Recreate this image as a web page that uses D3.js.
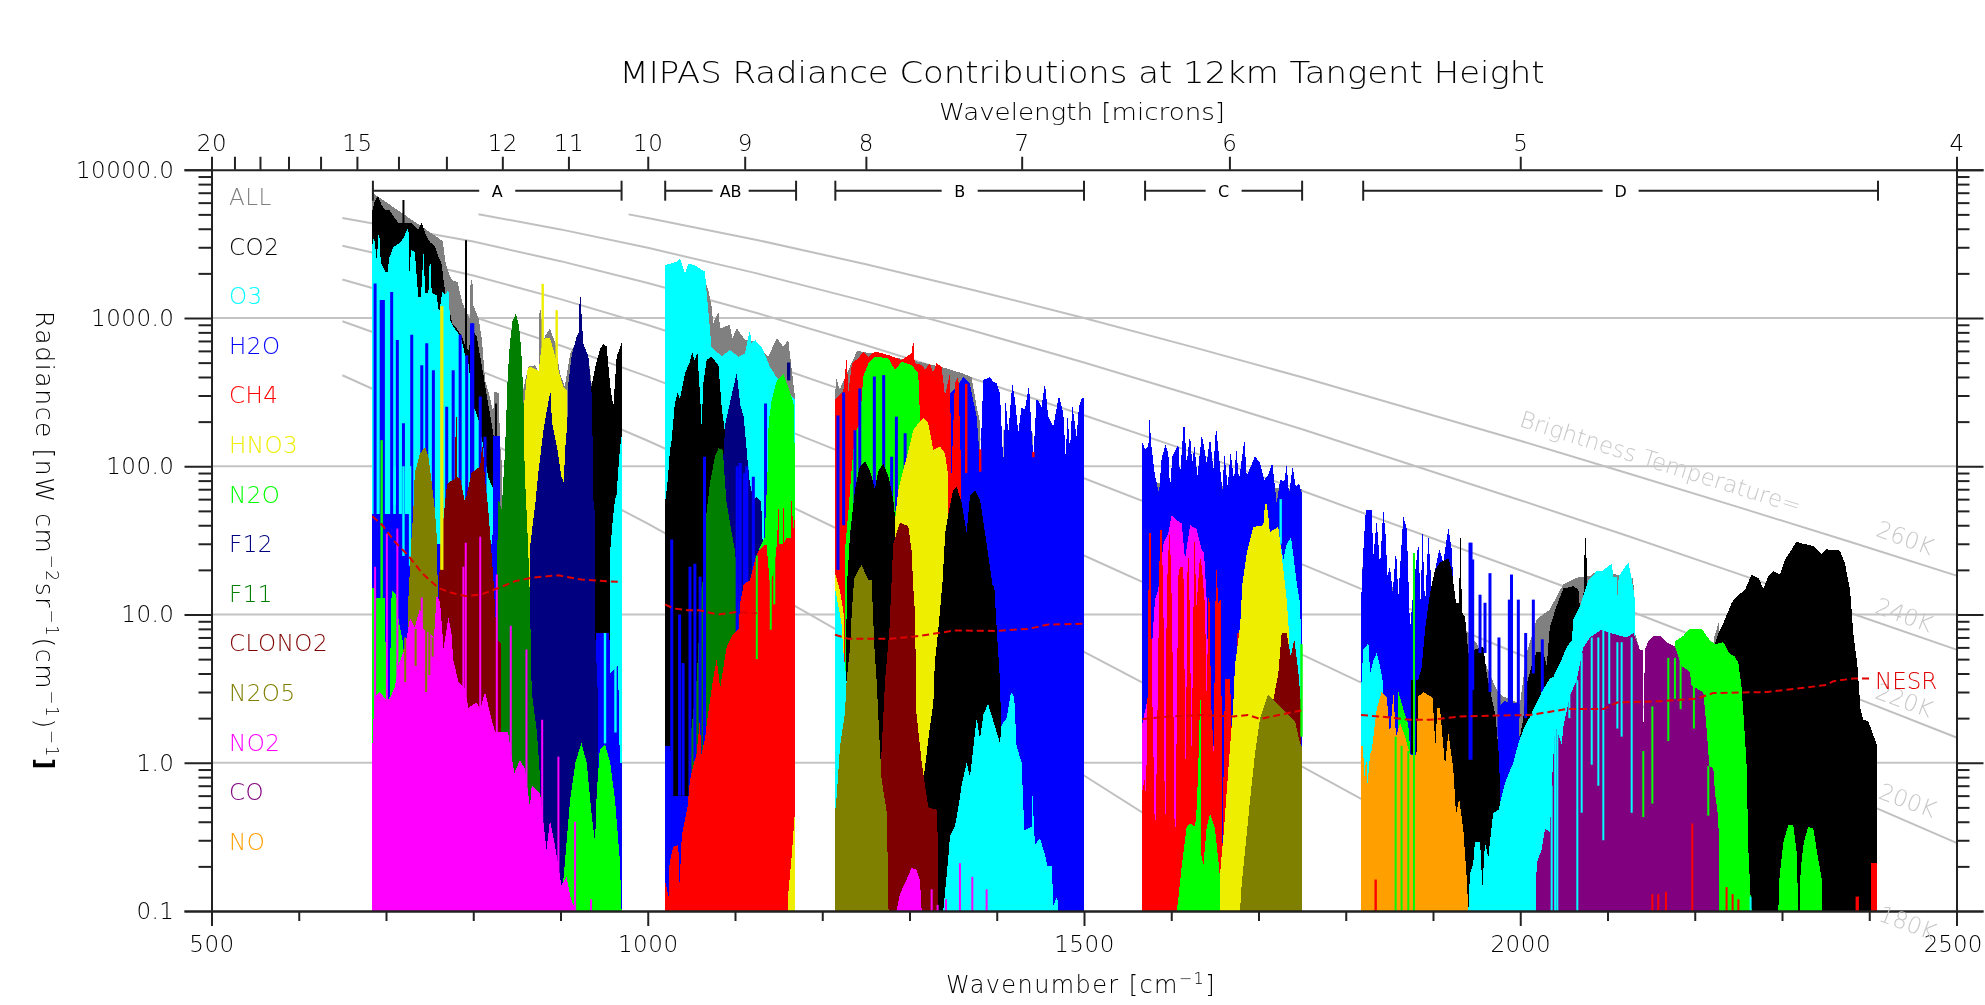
<!DOCTYPE html>
<html>
<head>
<meta charset="utf-8">
<title>MIPAS Radiance Contributions</title>
<script src="https://cdn.jsdelivr.net/npm/d3@7"></script>
<style>
  html, body { margin: 0; background: #fff; }
  svg { display: block; filter: blur(0.55px); }
  text { font-family: "DejaVu Sans", sans-serif; font-weight: 200; fill: #000; }
  .tick line, .domain { stroke: #222; stroke-width: 2; }
</style>
</head>
<body>
<script>
// -- gases, legend order --
var gases = ["ALL","CO2","O3","H2O","CH4","HNO3","N2O","F12","F11","CLONO2","N2O5","NO2","CO","NO"];
var gasColors = ["#808080","#000000","#00ffff","#0000ff","#ff0000","#eeee00","#00ff00","#000080","#007f00","#7f0000","#7f7f00","#ff00ff","#800080","#ff9f00"];

// -- axis values --
var wnMajor = [500,1000,1500,2000,2500];
var wnMinor = [600,700,800,900,1100,1200,1300,1400,1600,1700,1800,1900,2100,2200,2300,2400];
var radMajor = [0.1,1,10,100,1000,10000];
var radMinor = [0.2,0.3,0.4,0.5,0.6,0.7,0.8,0.9,2,3,4,5,6,7,8,9,20,30,40,50,60,70,80,90,200,300,400,500,600,700,800,900,2000,3000,4000,5000,6000,7000,8000,9000];
var microns = [20,19,18,17,16,15,14,13,12,11,10,9,8,7,6,5,4];
var micronLabels = [20,15,12,11,10,9,8,7,6,5,4];

// -- spectral bands --
var bandNames = ["A","AB","B","C","D"];
var bandStart = [685,1020,1215,1570,1820];
var bandEnd = [970,1170,1500,1750,2410];

// -- brightness temperature curves, wavenumber,radiance --
var bt260 = [978,5000,1000,4726,1125,3363,1250,2305,1375,1535,1500,999,1625,636,1750,398,2000,148.6,2125,89,2250,53,2375,31.3,2500,18.3];
var bt240 = [806,5010,900,3960,1000,2976,1125,2000,1250,1294,1375,815,1500,501,1625,300,1750,177.5,2000,59,2125,33.6,2250,18.8,2375,10.4,2500,5.8];
var bt220 = [650,4725,800,3278,900,2418,1000,1723,1125,1081,1250,655,1375,386,1500,221,1625,124,1750,68.3,2000,19.9,2125,10.6,2250,5.5,2375,2.88,2500,1.48];
var bt200 = [650,3075,800,1935,900,1340,1000,896,1125,519,1250,289,1375,157,1500,83,1625,43,1750,21.8,2000,5.35,2125,2.62,2250,1.27,2375,0.6,2500,0.288];
var bt180 = [650,1820,800,1020,900,653,1000,402,1125,211,1250,107,1375,52.5,1500,25,1625,11.6,1750,5.36,2000,1.08,2125,0.48,2250,0.21,2370,0.094];
var bt160 = [650,950,800,460,900,265,1000,148.5,1125,69,1250,30.6,1375,13.3,1500,5.6,1625,2.3,1750,0.94,1900,0.31,2050,0.1];
var bt140 = [650,411,800,164,900,83.5,1000,41,1125,16,1250,6.1,1375,2.26,1500,0.82,1625,0.28,1700,0.15,1770,0.084];

// -- noise level per band --
var nesrA = [684.4,46,695,40.5,710,31,726,24.8,741,19.1,760,15.1,775,14,792.5,13.3,810,13.7,829,15.1,848,16.8,867,17.7,897.5,18.4,924,17.2,966,16.6];
var nesrAB = [1019.8,11.7,1029,11,1045,10.7,1058,10.7,1081,10,1102,10.4,1125,10.2];
var nesrB = [1214.6,7.3,1230,6.85,1275.7,6.85,1306,7.1,1333,7.5,1352,7.8,1398,7.75,1436,8,1459,8.55,1500,8.65];
var nesrC = [1567,1.97,1597,2.05,1635,2.1,1671,2.05,1688,2.1,1702,1.97,1723,2.1,1749,2.25];
var nesrD = [1817.5,2.1,1839,2.05,1874,1.95,1897,1.95,1931,2.05,1973,2.08,2011,2.1,2053,2.3,2095,2.3,2111,2.55,2160,2.6,2202,2.7,2221,2.95,2283,3,2325,3.2,2351,3.35,2359,3.55,2382,3.7,2404,3.7];

// ***** Band A *****
var aAll = [684.4,7000,762,3400,765,3300,768,2400,772,2000,776,1800,782,1750,787,1300,792,1100,796,1000,797,1800,799,1800,800,1220,806,1000,810,715,813.5,380,819,295,823,228,824,320,829,310,831,135,833,100,833.5,0.1,855,0.1,855.5,290,863,470,871,480,875,430,876,1130,878,1130,879,620,882,750,888,850,894,675,899.5,420,905,345,911,570,917,675,924,720,932,548,936,345,940,345,941,0.1];
var aCo2 = [684.5,5350,687.5,6240,691,6600,695,5780,699,5350,704,5350,709,4800,714,4400,730,4360,737,3930,741,4400,745,3700,750,3270,756,3030,760,2600,764,2300,766,1800,768,1470,772,1190,776,920,781,852,787,748,791,640,795,600,798,852,804,748,808,548,812,402,815,310,819,228,823,167,829,90,831,51,832,0.1,933,0.1,934,310,940,470,945,610,949,675,953,640,957,345,960.6,252,964.4,548,970,675];
var aCo2Spikes = [720,6240,0.1,791.7,3350,0.1,826,265,0.1];
var aO3 = [684.4,3150,686.3,3540,689.4,2460,692,4030,694,2390,699,2050,702,2050,703.5,2520,708.5,3030,714,3150,720,3440,724,3930,725.7,4030,726.8,2000,728.7,2880,733,2800,737,1390,740,1390,743,2730,745,1470,748.6,1470,750.5,2730,752.4,1470,758,1430,760.8,1075,764.6,1500,767.7,1430,771.5,1540,773.4,970,777,874,783,788,786.8,710,790.6,563,795,482,798,280,806,205,811.6,135,817,85,823,70,824,48,824.5,0.1,956,0.1,957,27,960,44,962.5,60,964,62,968,130,970.5,167];
var aH2o = [684.4,48,733,48,735,30,822,30,823,160,831,160,832,0.1,941,0.1,941,7.5,956,7.5,957,4,966,4.5,968,1,970.5,1];
var aH2oSpikes = [687.5,1710,0.1,694.5,1320,0.1,697,1320,0.1,706.5,1500,0.1,713,710,0.1,720,195,0.1,729.5,770,0.1,741,480,0.1,746.7,675,0.1,754.3,445,0.1,769.6,252,0.1,777,445,0.1,785,770,0.1,792.5,560,0.1,798,920,0.1,799.5,920,0.1,808,295,0.1,813.5,158,0.1];
var aO3Spikes = [701,100,49,710,100,55,720,100,24.8,727.6,100,21.3,951,7.5,1.35,963,20,1.6];
var aHno3 = [858,0.1,858.5,270,862,440,864,470,869,460,875,440,878,620,882,730,888,730,892,610,897.6,447,903,345,908,320,908.5,0.1];
var aHno3Spikes = [879.6,1700,400,895.6,1130,300];
var aF12 = [864.5,0.1,864.5,27,871,55,874.6,90,880,167,884,232,888,310,889,310,890,200,896,135,901,85,904,77,905,122,908,204,908.5,340,913,570,918.6,748,921,800,922,1390,923,1390,926,675,932,548,936,295,938,51,939.6,51,940,7,943,2.7,943.5,0.1];
var aF11 = [827,0.1,827,21,829,60,832.6,51,836.4,127,839.5,402,842,675,845,950,849,1075,852.5,875,855,610,857.5,295,859,90,861,51,863,27.5,865,12.6,867,3,873,1.6,877,0.73,878,0.1];
var aN2oLeft = [684.4,15,687,15,688,13,699,13,700,2.7,704,2.7,706.5,14.5,712,13.5,713,4,714,9.5,719,6.7,719.5,0.1];
var aN2oSpikes = [695,150,3];
var aN5 = [720,5.8,725.7,7.5,725.7,13,727.6,21,729.5,35,731.4,51,733,90,739,122,745,135,748.6,116,752,81,756,51,758,35,759,19,759.3,15.5,760,0.1];
var aClono2 = [760,10,762,27,766,45,768,60,770,76,775,80,779,82,780,215,781,215,782,83,785,83,790,59,792,62,798,90,808,100,810,135,811,135,813.5,81,817,53,823,17.7,827,6.8,832,6.4,832.5,0.1];
var aHno3Line = [763.5,1200,20,764.5,1200,20];
var aN2oRight = [903,0.1,903,0.154,911,0.56,917,1,924,1.36,930,1,936,0.43,939.6,0.29,941.5,0.62,945,1.22,951,1.33,957,1,962.5,0.56,968,0.22,970,0.1];
var aNo2 = [684.4,1.3,686.7,2.75,693,3,699,2.7,704,2.7,710,3.2,714,4.5,720,5.6,724,7.1,727.6,9.5,733,8.2,739,11,743,8,750,7.5,755,7,758,13.5,762,12,766,5.9,771.5,9.5,775,7.5,777,5,783,3.5,790,3.2,794.4,2.35,804,2.55,808,2.3,813.5,3,819,2.2,825,1.6,840,1.6,847,0.85,853.6,1.05,859.4,0.9,865,0.5,867,0.7,876.6,0.62,882,0.33,884,0.26,888,0.41,894,0.27,901,0.15,907,0.17,912,0.12,918,0.1];
var aNo2Spikes = [687.5,21,0.1,701,35,0.1,713,38,0.1,741,13,0.1,788.7,21,0.1,791.4,30.5,0.1,808,33.5,0.1,827,18.6,0.1,843,8.4,0.1,861,5.8,0.1,879,1.95,0.1,897.6,1.1,0.1,916.7,0.4,0.1,935,0.12,0.1];
var aN5Notches = [722,7,3.5,734,8,4.5,746,8,3,749.7,8,3.9,753.5,7,5.2];

// ***** Band AB *****
var bAll = [1065,0.1,1065,1800,1069.4,1550,1073,1220,1075,920,1081,1100,1083,850,1094,900,1097,730,1102,850,1111.4,715,1123,693,1138,548,1148,730,1155.4,640,1161,715,1165,447,1168.7,295];
var bO3 = [1019.8,2270,1033,2400,1037,2520,1042.7,1990,1046.5,2320,1054,2270,1065.6,2050,1067.5,1470,1070.6,945,1073,640,1084.7,550,1094,608,1104,548,1111.4,575,1117,830,1119,675,1123,710,1130.5,640,1140,470,1146,412,1168.7,280];
var bCo2 = [1019.8,56,1023,81,1025.5,129,1027.4,150,1031,265,1034,312,1037,285,1042.7,424,1048.4,508,1051,593,1053.4,520,1057,578,1060,295,1061.8,185,1063.7,363,1067.5,520,1073,548,1081,482,1084.7,252,1089,159,1090,0.1];
var bF12 = [1086,0.1,1086,100,1089,195,1094,265,1102,425,1106,260,1110,216,1115,100,1117,77,1121,59,1125,62,1130,58,1132,27,1132.5,0.1];
var bF11 = [1048.4,1.2,1050,1.68,1056,3.6,1058,6.1,1062,17,1064,16,1065.6,39.5,1071.3,77,1077,116,1081,132,1086,129,1090,59,1096.2,35.5,1100,27,1103,16,1104,12,1106,7.9,1106.5,0.1];
var bH2o = [1019.8,1.3,1026,1.3,1027,0.6,1048,0.6,1048.5,0.1];
var bH2oSpikes = [1027.5,32,0.6,1036.5,10,0.6,1040.5,4.7,0.6,1048.4,21,0.6,1054,22,1,1060,18,1,1065,116,1,1102.5,100,1,1106,105,1,1111,90,1,1113.5,100,1,1121,85,1,1135,265,1,1150,110,1,1165,120,1];
var bN2o = [1128,0.1,1128,28,1134,33,1138,115,1138.5,195,1142,280,1148,380,1155.4,420,1161,340,1167,270,1168.7,110];
var bF12Top = [1161,500,380,1162,500,380];
var bCh4 = [1019.8,0.16,1024,0.125,1025,0.21,1029,0.27,1035,0.28,1036.5,0.15,1039,0.32,1045.5,0.5,1048.4,0.76,1052,0.95,1056,1.15,1060,2.05,1061,1.1,1065.6,1.45,1069,2.1,1075,3.7,1079,5,1083,3.2,1090.5,6.1,1098,7.4,1104,7.9,1106,12,1110,16,1117,17,1123,23.5,1127,27,1136,30,1140,16,1145,20,1148,30,1150,53,1151,30,1155,30,1155.4,69,1156,30,1159,33,1164,33,1165,69,1166.5,36,1168.7,46];
var bN2oSpikes = [1125,25,5,1141,25,7.9,1145,30,11.7];
var bHno3 = [1161,0.1,1161,0.13,1164.6,0.22,1168.7,0.47];

// ***** Band B *****
var cAll = [1214.6,290,1216,392,1220,330,1240,600,1310,507,1340,462,1360,424,1371,400,1377,252,1381,195,1383,0.1];
var cAllSpikes = [1409,176,0.1,1440,167,0.1];
var cH2o = [1214.6,205,1224,318,1237.5,175,1243,335,1257,402,1270.4,412,1285,216,1314,402,1320,412,1325,300,1335,300,1344,300,1354,340,1361.7,402,1369,363,1377,216,1381,105,1384.6,382,1390,393,1392.2,402,1396,372,1400,363,1403.7,310,1407.5,105,1410.2,280,1413.2,167,1417.8,363,1420.9,280,1424.7,167,1428.5,252,1432.3,240,1437,353,1440,167,1442,116,1445.7,288,1451.4,252,1455.2,363,1459,216,1464.8,185,1471.3,300,1476.3,227,1479,116,1481.2,216,1484,129,1486.6,259,1491.5,158,1494.2,252,1497.3,288,1500,288];
var cCh4 = [1214.6,280,1224,318,1228,535,1230,318,1234,495,1241.3,535,1247,594,1253,548,1260.4,594,1275.7,563,1291,521,1296.7,548,1302.4,578,1304.4,710,1306,495,1314,482,1318,450,1323.4,495,1327,430,1331,495,1336.8,470,1340.6,300,1346.4,424,1348,85,1352,363,1356,402,1359,100,1361,0.1];
var cCh4Spikes = [1365,360,90,1381,130,92,1442,125,115];
var cN2o = [1226,27,1230,50,1234,100,1237.5,167,1243.2,195,1247,402,1253,495,1260.4,548,1275.7,535,1283.3,446,1291,507,1302.4,482,1310,424,1312,216,1312.5,0.1];
var cH2oSpikes = [1218,220,20,1224.5,315,40,1237.5,175,35,1243,335,50,1259.7,403,50,1270.4,412,50,1285,216,50,1279.5,116,50,1295,167,50];
var cCo2 = [1226,0.1,1228,14.7,1232,35.5,1237.5,69,1243,100,1249,108,1255,92,1260.4,70,1264,92,1270,104,1276,85,1281.5,59,1285,36,1290,36,1290.5,0.1];
var cHno3Left = [1214.6,19,1217,17,1220.3,14.5,1224,10.8,1225.3,8.8,1226,0.1];
var cHno3 = [1283.3,0.1,1283.3,42,1287,69,1293,95,1299,129,1304.4,176,1310,195,1315.8,211,1321.5,195,1327.3,129,1335,136,1340.6,122,1344.5,85,1344.6,0.1];
var cCo2Right = [1316,0.1,1316,0.77,1320,1.2,1323.4,1.75,1327.3,2.5,1329,4.7,1333,7.9,1338,17,1341,36,1344.7,48,1350,69,1354,73,1360,56,1365.5,35.5,1369.3,63,1375,69,1381,59,1388.4,30,1396,14.7,1396.8,17,1400,7.9,1403.7,3.6,1405.6,1.3,1406,0.1];
var cClono2 = [1267.3,1,1269.2,1.68,1272,3.6,1277,7.9,1279.5,17,1281.4,30,1289,41.6,1298.6,39.5,1302.4,27,1304.4,15,1306.3,10.3,1308,2.15,1314,1,1321.5,0.5,1332,0.48,1332.5,0.1];
var cO3Left = [1214.6,15,1222,8.8,1224,5.8,1228.7,3.2,1229,0.1];
var cN5 = [1214.6,0.46,1216.6,0.6,1220.4,1.3,1226,2.15,1228,3.6,1232,6.1,1233.7,10,1236.4,17,1237.5,18,1245,21.6,1253,17,1256.6,17,1259.7,6.1,1262.3,3.6,1265,1.68,1268,0.77,1274,0.46,1276,0.1];
var cO3Right = [1338.7,0.1,1344.5,0.23,1346.4,0.32,1352,0.37,1356,0.5,1359.7,0.7,1365.5,1,1369.3,0.8,1377,2,1380.8,1.45,1384.6,2.1,1390,2.5,1394,2.1,1403.7,1.35,1405.6,1.8,1411.3,2,1416.3,3,1420,2.8,1422.7,1.3,1428.5,1,1431.6,0.35,1440,0.37,1441,0.6,1443.8,0.28,1449.5,0.31,1455.2,0.24,1458.3,0.2,1463,0.2,1465,0.11,1469.4,0.125,1470.5,0.1];
var cNo2 = [1285,0.1,1289,0.13,1295,0.155,1302.4,0.195,1308,0.19,1312,0.16,1314,0.1];
var cNo2Spikes = [1325.4,0.14,0.1,1332.2,0.11,0.1,1341.8,0.12,0.1,1357.8,0.21,0.1,1372,0.17,0.1,1388.4,0.14,0.1];

// ***** Band C *****
var dAll = [1567,78,1749.5,70];
var dH2o = [1567,144,1570,130,1573.8,137,1575.3,217,1576.8,144,1581.4,86,1586,66,1589,114,1593.6,140,1596.7,120,1598.6,70,1601.3,117,1608.2,140,1610,86,1614.7,206,1617.7,105,1621.5,164,1624,105,1626.5,137,1630,86,1635,164,1638,130,1640.6,105,1644.5,155,1648.3,95,1651.3,186,1654,130,1658.6,68,1660.9,120,1664.7,73,1668,123,1672,81,1674.6,130,1677.7,81,1683.8,151,1686.5,86,1690.3,97,1696,117,1701.8,105,1706.7,81,1710.5,86,1715.9,105,1720.9,56,1724.7,81,1729.6,79,1732.3,103,1735,64,1739.2,100,1742.6,73,1746.4,77,1749.5,66];
var dNo2 = [1567,1.85,1574,2.9,1577.6,5.8,1581.4,12.6,1585,14.6,1591,30,1596.7,35.5,1600.5,47,1606,43.5,1612,41,1615.8,23.5,1621.5,40,1629,38,1635,27,1637.6,26,1640.6,12.6,1643,2.65,1649.4,1.15,1650,0.1];
var dCh4 = [1567,0.65,1570,0.8,1571,0.53,1573,3.3,1574.5,35.5,1576.5,35.5,1577.6,4.5,1579.5,1.23,1581.4,0.29,1583.3,0.95,1585,4.5,1587,37,1589,37,1591,12.6,1593,0.153,1594.8,14,1597.8,36.5,1599.8,21,1602.4,2.65,1604.3,0.19,1606.2,1.6,1608,18,1610,21,1613.9,21,1616.6,0.8,1618.9,29,1620.4,21,1623.4,1.1,1626.5,33,1629,11.4,1633,25,1635,21,1638.7,11.4,1640.6,2.65,1643.3,20,1645.6,2.65,1648.6,1.15,1651.3,23,1654,12,1657,12.6,1658.6,0.25,1661.6,3.7,1667.4,3.7,1669.3,1.6,1670,0.1];
var dCh4Spikes = [1677,7.5,5.8,1635,0.25,0.1];
var dN2o = [1606.3,0.1,1608,0.12,1612,0.2,1617.7,0.37,1621.5,0.39,1627.3,0.37,1629.2,0.5,1631,0.95,1633,2.65,1633.7,2.65,1634,0.25,1636.8,0.2,1640.6,0.37,1644.5,0.45,1650,0.36,1654,0.22,1657,0.14,1659.7,0.1];
var dO3 = [1722,0.1,1722,38,1728.5,23.5,1732.3,30,1737.3,33,1740,25,1743.8,16.3,1747.6,12,1749,6.4,1749.5,0.1];
var dO3Spikes = [1725.4,60,30];
var dHno3 = [1656,0.1,1656,0.18,1660,0.33,1667,1.2,1671,2.4,1673,4.5,1679,8.5,1681.5,16,1686.5,26,1690.3,32,1694,39,1705.5,40,1707.5,56,1709,56,1711,48,1713,36,1722.7,39,1726.6,25,1732.3,12.6,1735,7.5,1737,0.1];
var dClono2 = [1717,0.1,1717,2.65,1722.7,4,1726.6,7.5,1732.3,7.5,1737,5.2,1741,6.8,1745.7,4.1,1748.4,2.6,1748.5,0.1];
var dN5 = [1678.8,0.1,1680.7,0.15,1690.3,0.56,1696,1.15,1701.8,2,1711,2.9,1717,2.65,1730.4,2.2,1742,1.9,1747.6,1.35,1749.5,1.3];
var dN2oSpikes = [1749.3,6.3,1.5];

// ***** Band D *****
var eAll = [1817.5,11.8,1820,27,1839.3,17,1852.6,15.4,1860.3,14,1873.7,5.5,1896.6,14.8,1931,8.8,1950,6.4,1973,3.1,1980.6,2.8,1999.7,2.5,2007.4,5.5,2018.8,9.3,2034,10.8,2041,13,2049.4,16,2064.7,17.7,2080,18.2,2087.6,19.6,2103,19,2129.6,17.5,2131.5,7.5,2137,5.8,2141,1.95,2141.5,0.1,2222,0.1,2222,7,2228,9,2232,0.1];
var eH2o = [1817.5,11.8,1820,26,1823,51,1829.7,51,1831.6,24.8,1835.5,43,1839.3,21,1843,51,1845.8,34,1847.7,18.2,1850.7,21,1853.8,14,1857.6,27.5,1860.3,13.3,1866,46,1870,37.5,1873.7,7.9,1877.5,14.8,1883.2,30.5,1886,11.4,1887.8,37.5,1890.9,11.4,1894.7,34,1898.5,14.8,1902.3,20,1907.3,27.5,1911.9,22.5,1917.6,38.5,1921.4,27.5,1925,10,1926,0.1,1975,0.1,1975,2.4,1982,2.6,1999,2.5,2000,0.1];
var eCo2Left = [1880,3.6,1883,3.6,1887,4.4,1891,8,1896.6,14,1902.3,20,1908,22.5,1917.6,24,1921.4,20,1926.4,12,1930,12,1931,33,1932,33,1933,10.3,1936.7,9.7,1940.5,5.5,1948,5.8,1957.7,6.1,1961.5,4,1965.3,3.1,1971.8,2.05,1975.6,1.1,1977.6,0.5,1979,0.1];
var eCo2Mid = [1999.7,1.5,2003.5,2,2007.4,3.4,2013,4.5,2018.8,5.6,2026.5,5.5,2030.3,4.5,2034,8.3,2041.7,11.4,2049.4,15,2060.8,15.5,2066.6,14.8,2068.5,10.8,2072.3,12.6,2074.2,33,2075.3,33,2077,14.8,2078,0.1];
var eCo2Right = [2223.2,6.3,2227,7.5,2232.7,8.7,2242.3,12,2248,13.2,2257.6,14.7,2265.2,18.6,2273,17.6,2278.6,15,2284.3,18,2290,19.7,2297.7,18.6,2303.4,23.5,2311,27.5,2316.8,31,2324.4,30,2335.9,29,2345.4,25.5,2351,27.5,2366.4,27,2372.2,22,2378,14.7,2381.7,7.5,2386.3,4.6,2390,2.3,2393.2,1.95,2399,1.9,2408.5,1.33];
var eCo2Spikes = [1876,3.6,1.15,1877,3.6,1.15];
var eH2oSpikes = [1942.4,30.5,1.05,1943.6,30.5,1.05,1945.5,23.5,3.1,1953.9,13.6,5.5,1959.6,12,5.5,1965.3,19,3,1975.6,7,1.5,1987.5,12.6,2.5,1990,18.6,2.5,1997.8,12.6,2,2006.2,7.5,2,2015,12.6,4,2025.3,6.8,3];
var eO3Left = [1817.5,3,1820,5.8,1826,6.4,1828,4,1831.6,4.9,1835.5,5.5,1839.3,4.5,1843,3.4,1844,0.1];
var eN2oSpot = [1860.3,3,1866,2.3,1871.7,1.8,1875.6,0.9,1876,0.1];
var eNo = [1817.5,1.3,1820,1.3,1821,0.75,1823.5,1.1,1825,0.72,1828,1.15,1829.7,1.2,1835.5,2.3,1841,3,1847,2.75,1850.7,1.55,1854.6,2.95,1857.6,1.5,1862.2,1.85,1868,1.5,1873.7,1.13,1881,1.13,1883.2,2.8,1889,3,1899.6,2.75,1902.7,1.3,1905,2.35,1908,2.35,1913.8,0.95,1917.6,1.6,1923.3,0.9,1926.4,0.45,1930,0.57,1934.8,0.35,1938.6,0.17,1940.5,0.1];
var eN2oLines = [1857.2,1.5,0.1,1864,1.3,0.1,1871.7,1.2,0.1,1878.2,26,0.1];
var eCh4Left = [1834.3,0.163,0.1];
var eO3Right = [1940.5,0.1,1942.4,0.18,1946.2,0.21,1948,0.29,1954,0.29,1956.6,0.145,1959.6,0.29,1963.4,0.23,1969,0.46,1975,0.48,1982.5,0.73,1992,1,1997.8,1.35,2003.5,1.67,2013,2.15,2024.6,3,2034,3.7,2038,3.8,2045.6,4.7,2053.2,6,2059,6.7,2061,9.3,2068.5,11.4,2078,17,2087.6,19.6,2093.3,19.6,2104.8,22,2106.7,18,2110.5,18,2111.7,12.6,2112.8,18,2123.9,22.5,2127.7,17.5,2131.5,12.6,2131.6,7.5,2132,0.1];
var eN2oBlob = [2177.3,6.6,2187,7.2,2194.5,8,2208,8,2217.4,6.7,2223.2,6.3,2232.7,6.5,2240.4,5.4,2246,5.2,2250,4.7,2253.7,3.2,2256.4,1.9,2259.5,0.95,2261.4,0.26,2264,0.125,2265.2,0.1];
var eCo = [2018,0.1,2018.8,0.21,2024.6,0.26,2028.4,0.36,2034,0.34,2036,0.68,2040,1.8,2047.5,1.33,2049.4,1.75,2057,2.85,2064.7,3.6,2072.3,6,2080,7,2093.3,7.9,2103,7.5,2122,7,2129.6,7.5,2137,5.8,2140.3,5.8,2141,2.5,2141.8,1.1,2142.6,5.7,2146.8,6.6,2152.5,7.2,2160,7.2,2167.8,6.5,2177.3,6.1,2185,4.5,2194.5,4.1,2196.4,3.3,2209.8,3,2213.6,1.7,2216.7,0.95,2221.3,0.92,2223.2,0.62,2227,0.43,2229,0.1];
var eO3Lines = [2036,0.7,0.1,2040,1.8,0.1,2042.5,1.8,0.1,2056.3,3,2,2065.4,3.6,0.1,2070.4,5.5,0.46,2081.9,7,0.97,2089.5,7,0.7,2095.2,8,0.3,2102,8.8,2.5,2111.3,6.5,1.7,2116.2,6.5,1.5,2127.7,7,0.46,2264,0.125,0.1];
var eN2oLines2 = [2141,1.2,0.43,2151.4,2.4,0.53,2169.7,5.1,1.4,2177.3,5.1,2.7,2183.8,5,2.3,2199,3.5,1.7,2215.5,0.95,0.44,2229,0.26,0.1];
var eN2oHump1 = [2295.8,0.1,2297,0.165,2301.5,0.29,2307.2,0.38,2313,0.38,2316.8,0.25,2318.7,0.1];
var eN2oHump2 = [2320.6,0.1,2321.3,0.19,2325,0.29,2330,0.37,2335.9,0.36,2339.7,0.26,2345.4,0.165,2346.2,0.1];
var eCh4Lines = [2151.4,0.13,0.1,2158.2,0.13,0.1,2167,0.135,0.1,2197.2,0.39,0.1,2236.5,0.145,0.1,2243.4,0.13,0.1,2250,0.12,0.1,2385.5,0.125,0.1,2387,0.125,0.1];
var eCh4Edge = [2401.6,0.21,2408.5,0.21];

// ************************************
// *********** Chart setup ************
// ************************************
var width = 1985, height = 1005;
var svg = d3.select("body").append("svg").attr("width", width).attr("height", height);

var x = d3.scaleLinear().domain([500,2500]).range([211.5,1956.5]);
var y = d3.scaleLog().domain([0.1,10000]).range([911,169.75]);

function pairs(flat) {
  var out = [];
  for (var i = 0; i < flat.length; i += 2) out.push([flat[i], flat[i+1]]);
  return out;
}
function color(gas) { return gasColors[gases.indexOf(gas)]; }

var area = d3.area().x(function(d){ return x(d[0]); }).y0(y(0.1)).y1(function(d){ return y(d[1]); });
var line = d3.line().x(function(d){ return x(d[0]); }).y(function(d){ return y(d[1]); });

// -- gridlines and brightness curves sit behind everything --
svg.append("g").selectAll("line").data(radMajor.slice(1,5)).enter().append("line")
  .attr("x1", x(500)).attr("x2", x(2500))
  .attr("y1", function(d){ return y(d); }).attr("y2", function(d){ return y(d); })
  .attr("stroke", "#c4c4c4").attr("stroke-width", 2);

svg.append("clipPath").attr("id", "plot").append("rect")
  .attr("x", x(500)).attr("y", y(10000)).attr("width", x(2500)-x(500)).attr("height", y(0.1)-y(10000));

svg.append("g").attr("clip-path", "url(#plot)").selectAll("path").data([bt260,bt240,bt220,bt200,bt180,bt160,bt140]).enter().append("path")
  .attr("d", function(d){ return line(pairs(d)); })
  .attr("fill", "none").attr("stroke", "#c0c0c0").attr("stroke-width", 2);

var marks = svg.append("g");

function fillArea(gas, flat) {
  marks.append("path").attr("d", area(pairs(flat)))
    .attr("fill", color(gas)).style("shape-rendering", "crispEdges");
}
function spikes(gas, flat, w) {
  for (var i = 0; i < flat.length; i += 3) {
    marks.append("line")
      .attr("x1", x(flat[i])).attr("x2", x(flat[i]))
      .attr("y1", y(flat[i+1])).attr("y2", y(flat[i+2]))
      .attr("stroke", color(gas)).attr("stroke-width", w || 2.4);
  }
}

// -- band A --
fillArea("ALL", aAll); fillArea("CO2", aCo2); spikes("CO2", aCo2Spikes, 2);
fillArea("O3", aO3); fillArea("H2O", aH2o); spikes("H2O", aH2oSpikes, 3); spikes("O3", aO3Spikes);
fillArea("HNO3", aHno3); spikes("HNO3", aHno3Spikes);
fillArea("F12", aF12); fillArea("F11", aF11); fillArea("N2O", aN2oLeft); spikes("N2O", aN2oSpikes);
fillArea("N2O5", aN5); fillArea("CLONO2", aClono2); spikes("HNO3", aHno3Line);
fillArea("N2O", aN2oRight); fillArea("NO2", aNo2); spikes("NO2", aNo2Spikes, 2); spikes("N2O5", aN5Notches, 2);

// -- band AB --
fillArea("ALL", bAll); fillArea("O3", bO3); fillArea("CO2", bCo2); fillArea("F12", bF12); fillArea("F11", bF11);
fillArea("H2O", bH2o); spikes("H2O", bH2oSpikes, 3); fillArea("N2O", bN2o); spikes("F12", bF12Top);
fillArea("CH4", bCh4); spikes("N2O", bN2oSpikes, 2); fillArea("HNO3", bHno3);

// -- band B --
fillArea("ALL", cAll); spikes("ALL", cAllSpikes); fillArea("H2O", cH2o); fillArea("CH4", cCh4); spikes("CH4", cCh4Spikes);
fillArea("N2O", cN2o); spikes("H2O", cH2oSpikes, 3); fillArea("CO2", cCo2); fillArea("HNO3", cHno3Left);
fillArea("HNO3", cHno3); fillArea("CO2", cCo2Right); fillArea("CLONO2", cClono2); fillArea("O3", cO3Left);
fillArea("N2O5", cN5); fillArea("O3", cO3Right); fillArea("NO2", cNo2); spikes("NO2", cNo2Spikes, 2);

// -- band C --
fillArea("ALL", dAll); fillArea("H2O", dH2o); fillArea("NO2", dNo2); fillArea("CH4", dCh4); spikes("CH4", dCh4Spikes);
fillArea("N2O", dN2o); fillArea("O3", dO3); spikes("O3", dO3Spikes); fillArea("HNO3", dHno3);
fillArea("CLONO2", dClono2); fillArea("N2O5", dN5); spikes("N2O", dN2oSpikes);

// -- band D --
fillArea("ALL", eAll); fillArea("H2O", eH2o); fillArea("CO2", eCo2Left); fillArea("CO2", eCo2Mid); fillArea("CO2", eCo2Right);
spikes("CO2", eCo2Spikes); spikes("H2O", eH2oSpikes, 3); fillArea("O3", eO3Left); fillArea("N2O", eN2oSpot);
fillArea("NO", eNo); spikes("N2O", eN2oLines, 2); spikes("CH4", eCh4Left);
fillArea("O3", eO3Right); fillArea("N2O", eN2oBlob); fillArea("CO", eCo);
spikes("O3", eO3Lines, 2); spikes("N2O", eN2oLines2, 2);
fillArea("N2O", eN2oHump1); fillArea("N2O", eN2oHump2); spikes("CH4", eCh4Lines, 2); fillArea("CH4", eCh4Edge);

// -- NESR on top --
svg.append("g").selectAll("path").data([nesrA,nesrAB,nesrB,nesrC,nesrD]).enter().append("path")
  .attr("d", function(d){ return line(pairs(d)); })
  .attr("fill", "none").attr("stroke", "#e00000").attr("stroke-width", 2).attr("stroke-dasharray", "7 4");

// ************************************
// *************** Axes ***************
// ************************************
var radLabel = function(d){ return d3.format(".1f")(d); };

svg.append("g").attr("transform", "translate(" + x(500) + ",0)")
  .call(d3.axisLeft(y).tickValues(radMajor).tickSize(27).tickPadding(10).tickFormat(radLabel));
svg.append("g").attr("transform", "translate(" + x(500) + ",0)")
  .call(d3.axisLeft(y).tickValues(radMinor).tickSize(13).tickSizeOuter(0).tickFormat(""));
svg.append("g").attr("transform", "translate(" + x(2500) + ",0)")
  .call(d3.axisRight(y).tickValues(radMajor).tickSize(27).tickFormat(""));
svg.append("g").attr("transform", "translate(" + x(2500) + ",0)")
  .call(d3.axisRight(y).tickValues(radMinor).tickSize(13).tickSizeOuter(0).tickFormat(""));

var xAxisBottom = svg.append("g").attr("transform", "translate(0," + y(0.1) + ")")
  .call(d3.axisBottom(x).tickValues(wnMajor).tickSize(15).tickSizeOuter(0).tickPadding(10).tickFormat(d3.format("d")));
svg.append("g").attr("transform", "translate(0," + y(0.1) + ")")
  .call(d3.axisBottom(x).tickValues(wnMinor).tickSize(10).tickSizeOuter(0).tickFormat(""));

svg.append("g").attr("transform", "translate(0," + y(10000) + ")")
  .call(d3.axisTop(x).tickValues(microns.map(function(m){ return 10000/m; })).tickSize(13).tickSizeOuter(0).tickPadding(6)
    .tickFormat(function(d){ var m = Math.round(10000/d); return micronLabels.indexOf(m) >= 0 ? m : ""; }));

svg.selectAll(".tick text").attr("font-size", 23).style("letter-spacing", "0.5px");
// the last bottom label would run off the page
xAxisBottom.selectAll(".tick text").filter(function(d){ return d === 2500; }).attr("dx", -4).style("letter-spacing", "0");

// -- band brackets --
var bars = svg.append("g").selectAll("g").data(bandNames).enter().append("g");
var barY = 190.7;
bars.append("line").attr("x1", function(d,i){ return x(bandStart[i]); }).attr("x2", function(d,i){ return x(bandEnd[i]); })
  .attr("y1", barY).attr("y2", barY).attr("stroke", "#222").attr("stroke-width", 2);
bars.append("line").attr("x1", function(d,i){ return x(bandStart[i]); }).attr("x2", function(d,i){ return x(bandStart[i]); })
  .attr("y1", barY-10).attr("y2", barY+10).attr("stroke", "#222").attr("stroke-width", 2);
bars.append("line").attr("x1", function(d,i){ return x(bandEnd[i]); }).attr("x2", function(d,i){ return x(bandEnd[i]); })
  .attr("y1", barY-10).attr("y2", barY+10).attr("stroke", "#222").attr("stroke-width", 2);
bars.append("rect").attr("x", function(d,i){ return (x(bandStart[i])+x(bandEnd[i]))/2 - 18; })
  .attr("y", barY-8).attr("width", 36).attr("height", 16).attr("fill", "#fff");
bars.append("text").attr("x", function(d,i){ return (x(bandStart[i])+x(bandEnd[i]))/2; })
  .attr("y", barY+6).attr("text-anchor", "middle").attr("font-size", 16).style("font-weight", 400).text(function(d){ return d; });

// -- legend --
svg.append("g").selectAll("text").data(gases).enter().append("text")
  .attr("x", 229).attr("y", function(d,i){ return 205 + i*49.6; })
  .attr("font-size", 23).style("letter-spacing", "0.5px")
  .style("fill", function(d,i){ return gasColors[i]; }).text(function(d){ return d; });

// -- titles --
svg.append("text").attr("x", 1082).attr("y", 83).attr("text-anchor", "middle").attr("font-size", 30)
  .attr("textLength", 925).attr("lengthAdjust", "spacingAndGlyphs").text("MIPAS Radiance Contributions at 12km Tangent Height");
svg.append("text").attr("x", 1082).attr("y", 120).attr("text-anchor", "middle").attr("font-size", 23)
  .attr("textLength", 286).attr("lengthAdjust", "spacingAndGlyphs").text("Wavelength [microns]");

var xTitle = svg.append("text").attr("x", 1081).attr("y", 993).attr("text-anchor", "middle").attr("font-size", 24).style("letter-spacing", "1.4px");
xTitle.append("tspan").text("Wavenumber [cm");
xTitle.append("tspan").attr("dy", -9).attr("font-size", 16).text("\u22121");
xTitle.append("tspan").attr("dy", 9).text("]");

var yTitle = svg.append("text").attr("transform", "translate(36,541) rotate(90)").attr("text-anchor", "middle").attr("font-size", 25).style("letter-spacing", "1.6px");
yTitle.append("tspan").text("Radiance [nW cm");
yTitle.append("tspan").attr("dy", -10).attr("font-size", 17).text("\u22122");
yTitle.append("tspan").attr("dy", 10).text("sr");
yTitle.append("tspan").attr("dy", -10).attr("font-size", 17).text("\u22121");
yTitle.append("tspan").attr("dy", 10).text("(cm");
yTitle.append("tspan").attr("dy", -10).attr("font-size", 17).text("\u22121");
yTitle.append("tspan").attr("dy", 10).text(")");
yTitle.append("tspan").attr("dy", -10).attr("font-size", 17).text("\u22121");
yTitle.append("tspan").attr("dy", 10).style("font-weight", 700).text("]");

// -- curve annotations, placed along the lines --
var curveLabels = ["Brightness Temperature=","260K","240K","220K","200K","180K"];
var labelWn = [2158,2438,2437,2437,2441,2441];
var labelRad = [107,33,10,2.66,0.56,0.084];
var labelAngle = [17.4,20,20,20,20,20];
svg.append("g").selectAll("text").data(curveLabels).enter().append("text")
  .attr("transform", function(d,i){
    return "translate(" + x(labelWn[i]) + "," + (y(labelRad[i]) + 8) + ") rotate(" + labelAngle[i] + ")";
  })
  .attr("text-anchor", "middle").attr("font-size", 23).style("fill", "#c8c8c8").text(function(d){ return d; });

svg.append("text").attr("x", 1875).attr("y", 689).attr("font-size", 23).style("fill", "#e00000").text("NESR");
</script>
</body>
</html>
